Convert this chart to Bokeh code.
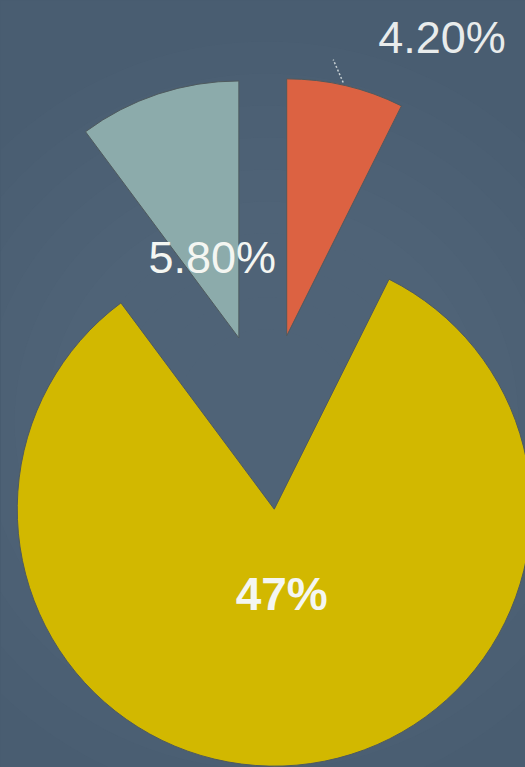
import math
from bokeh.plotting import figure
from bokeh.models import Range1d, ColumnDataSource, GlobalInlineStyleSheet
from bokeh.core.properties import value
from bokeh.embed import file_html
from bokeh.resources import INLINE

# ---- data ----
labels = ["4.20%", "47%", "5.80%"]
values = [4.2, 47.0, 5.8]
colors = ["#dc6242", "#d2b800", "#8cabab"]
label_kind = ["outside", "inside", "inside"]

# ---- layout constants (page coords -> data coords with y up) ----
W, H = 525, 767
cx, cy = 266.0, H - 421.0
R = 257.0
EXPLODE = 88.0

total = sum(values)
xs, ys, starts, ends = [], [], [], []
lab_x, lab_y, lab_txt = [], [], []
out_x, out_y, out_txt = [], [], []
lead_x0, lead_y0, lead_x1, lead_y1 = [], [], [], []
theta = 0.0
for lab, v, kind in zip(labels, values, label_kind):
    span = v / total * 360.0
    mid = theta + span / 2.0
    mr = math.radians(mid)
    ax = cx + EXPLODE * math.sin(mr)
    ay = cy + EXPLODE * math.cos(mr)
    xs.append(ax)
    ys.append(ay)
    starts.append(math.radians(90.0 - theta))
    ends.append(math.radians(90.0 - theta - span))
    if kind == "inside":
        rr = 0.33 * R
        lab_x.append(ax + rr * math.sin(mr))
        lab_y.append(ay + rr * math.cos(mr))
        lab_txt.append(lab)
    else:
        a2 = math.radians(mid + 14.2)
        out_x.append(ax + 1.31 * R * math.sin(a2))
        out_y.append(ay + 1.31 * R * math.cos(a2))
        out_txt.append(lab)
        a0 = math.radians(mid - 0.7)
        a1 = math.radians(mid - 3.7)
        lead_x0.append(ax + 1.01 * R * math.sin(a0))
        lead_y0.append(ay + 1.01 * R * math.cos(a0))
        lead_x1.append(ax + 1.09 * R * math.sin(a1))
        lead_y1.append(ay + 1.09 * R * math.cos(a1))
    theta += span

bg = "#495d71"
p = figure(width=W, height=H, output_backend="svg", toolbar_location=None,
           x_range=Range1d(0, W), y_range=Range1d(0, H),
           x_axis_type=None, y_axis_type=None, min_border=0)
p.grid.visible = False
p.outline_line_color = None
p.background_fill_color = bg
p.border_fill_color = bg
p.stylesheets = [GlobalInlineStyleSheet(
    css="html,body{margin:0;padding:0;overflow:hidden;background:%s;}" % bg)]

# subtle radial lightening of the background
for i in range(10):
    p.circle(x=cx, y=cy, radius=380 - i * 32, fill_color="#5b7282",
             fill_alpha=0.05, line_color=None)

src = ColumnDataSource(dict(x=xs, y=ys, s=starts, e=ends, c=colors))
p.wedge(x="x", y="y", radius=R, start_angle="s", end_angle="e",
        direction="clock", fill_color="c", line_color="#4f5a5e",
        line_width=1, source=src)

p.segment(x0=lead_x0, y0=lead_y0, x1=lead_x1, y1=lead_y1,
          line_color="#c9d1d4", line_width=1.5, line_dash="2 2")

inside_font_style = ["normal" if t != "47%" else "bold" for t in lab_txt]
inside_size = ["45px" if t != "47%" else "46px" for t in lab_txt]
p.text(x=lab_x, y=lab_y, text=lab_txt, text_align="center",
       text_baseline="middle", text_font=value("Liberation Sans"),
       text_font_size=inside_size, text_color="#f4f6f2",
       text_font_style=inside_font_style)
p.text(x=out_x, y=out_y, text=out_txt, text_align="center",
       text_baseline="middle", text_font=value("Liberation Sans"),
       text_font_size=value("45px"), text_color="#e9ecec")

open("out.html", "w").write(file_html(p, INLINE))
